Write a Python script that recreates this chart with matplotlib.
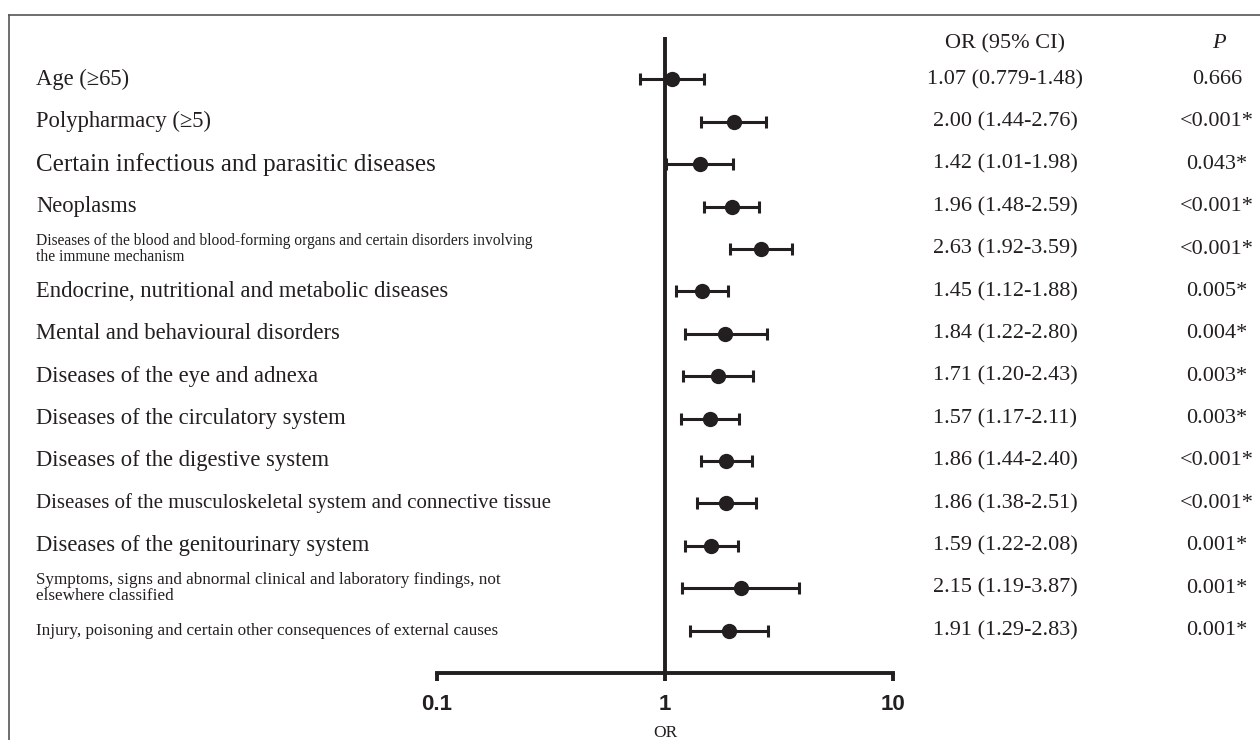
import matplotlib
matplotlib.use("Agg")
import matplotlib.pyplot as plt
import matplotlib.transforms as mtransforms
from matplotlib.lines import Line2D

# data
labels = ["Age (\u226565)",
          "Polypharmacy (\u22655)",
          "Certain infectious and parasitic diseases",
          "Neoplasms",
          "Diseases of the blood and blood-forming organs and certain disorders involving\nthe immune mechanism",
          "Endocrine, nutritional and metabolic diseases",
          "Mental and behavioural disorders",
          "Diseases of the eye and adnexa",
          "Diseases of the circulatory system",
          "Diseases of the digestive system",
          "Diseases of the musculoskeletal system and connective tissue",
          "Diseases of the genitourinary system",
          "Symptoms, signs and abnormal clinical and laboratory findings, not\nelsewhere classified",
          "Injury, poisoning and certain other consequences of external causes"]
label_sizes = [16.3, 16.3, 18, 16.3, 11.2, 16.3, 16.3, 16.3, 16.3, 16.3, 15, 16.3, 12.3, 12.3]
odds = [1.07, 2.00, 1.42, 1.96, 2.63, 1.45, 1.84, 1.71, 1.57, 1.86, 1.86, 1.59, 2.15, 1.91]
lower = [0.779, 1.44, 1.01, 1.48, 1.92, 1.12, 1.22, 1.20, 1.17, 1.44, 1.38, 1.22, 1.19, 1.29]
upper = [1.48, 2.76, 1.98, 2.59, 3.59, 1.88, 2.80, 2.43, 2.11, 2.40, 2.51, 2.08, 3.87, 2.83]
pvals = ["0.666", "<0.001*", "0.043*", "<0.001*", "<0.001*", "0.005*", "0.004*",
         "0.003*", "0.003*", "<0.001*", "<0.001*", "0.001*", "0.001*", "0.001*"]
xticks = [0.1, 1, 10]

ink = "#231f20"
serif = ["Liberation Serif", "DejaVu Serif"]

fig = plt.figure(figsize=(12.6, 7.4), dpi=100)
W, H = 1260.0, 740.0

# forest axes: 0.1 at x=437px, 10 at x=893px, axis line at y=673px, top at 37px
ax = fig.add_axes([437 / W, (H - 673) / H, (893 - 437) / W, (673 - 37) / H])
ax.set_xscale("log")
ax.set_xlim(0.1, 10)
ax.set_ylim(14, -1)

rows = list(range(len(labels)))
xerr = [[o - l for o, l in zip(odds, lower)], [u - o for o, u in zip(odds, upper)]]
ax.errorbar(odds, rows, xerr=xerr, fmt="o", color=ink, ms=10, elinewidth=2.2,
            capsize=4, capthick=2.2, zorder=3)
ax.axvline(1, color=ink, lw=2.8, zorder=2)

for s in ["top", "right", "left"]:
    ax.spines[s].set_visible(False)
ax.spines["bottom"].set_linewidth(2.8)
ax.spines["bottom"].set_color(ink)
ax.set_yticks([])
ax.set_xticks(xticks)
ax.set_xticklabels(["0.1", "1", "10"])
ax.minorticks_off()
ax.tick_params(axis="x", direction="out", length=6, width=2.8, color=ink, pad=9)
for t in ax.get_xticklabels():
    t.set_fontfamily(["Liberation Sans", "DejaVu Sans"])
    t.set_fontweight("bold")
    t.set_fontsize(16)
    t.set_color(ink)
ax.set_xlabel("OR", fontfamily=serif, fontsize=12.5, color=ink, labelpad=7)

trans = mtransforms.blended_transform_factory(fig.transFigure, ax.transData)
for i, lab in enumerate(labels):
    ax.text(36 / W, i, lab, transform=trans, ha="left", va="center",
            fontfamily=serif, fontsize=label_sizes[i], color=ink, linespacing=1.05)
    ci = "%.2f (%s-%.2f)" % (odds[i], ("%.3f" % lower[i]) if lower[i] < 1 else "%.2f" % lower[i], upper[i])
    ax.text(1005 / W, i, ci, transform=trans, ha="center", va="center",
            fontfamily=serif, fontsize=16, color=ink)
    ax.text(1217 / W, i, pvals[i], transform=trans, ha="center", va="center",
            fontfamily=serif, fontsize=16, color=ink)

ax.text(1005 / W, -0.85, "OR (95% CI)", transform=trans, ha="center", va="center",
        fontfamily=serif, fontsize=16, color=ink)
ax.text(1219 / W, -0.85, "P", transform=trans, ha="center", va="center",
        fontfamily=serif, fontsize=16, fontstyle="italic", color=ink)

# frame lines (left and top)
fig.add_artist(Line2D([9 / W, 9 / W], [0, (H - 15) / H], color="#555555", lw=1.2,
                      transform=fig.transFigure))
fig.add_artist(Line2D([9 / W, 1], [(H - 15) / H, (H - 15) / H], color="#555555", lw=1.2,
                      transform=fig.transFigure))

fig.savefig("out.png", dpi=100)
